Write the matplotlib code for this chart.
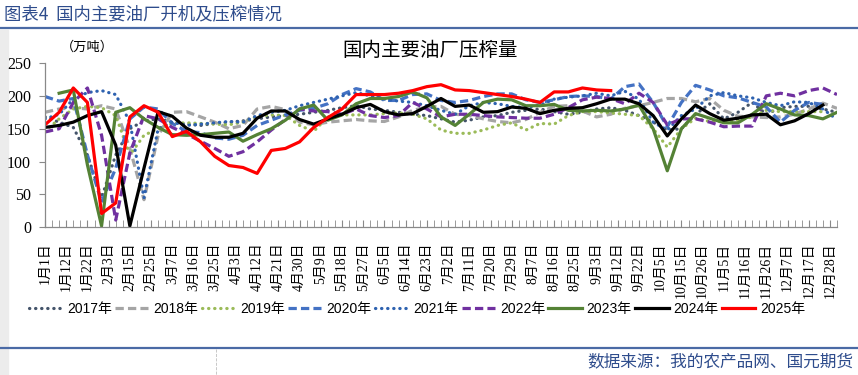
import numpy as np
import matplotlib
matplotlib.use('Agg')
import matplotlib.pyplot as plt
from matplotlib.lines import Line2D
from matplotlib.patches import Rectangle

plt.rcParams['font.family'] = ['Liberation Sans', 'Noto Sans CJK SC']

nan = np.nan

# tick labels (category axis, one label every 3 categories)
date_labels = ['1月1日', '1月12日', '1月22日', '2月3日', '2月15日', '2月25日', '3月7日',
               '3月16日', '3月25日', '4月3日', '4月12日', '4月21日', '4月30日', '5月9日',
               '5月18日', '5月27日', '6月5日', '6月14日', '6月23日', '7月2日', '7月11日',
               '7月20日', '7月29日', '8月7日', '8月16日', '8月25日', '9月3日', '9月12日',
               '9月22日', '10月5日', '10月15日', '10月26日', '11月5日', '11月16日',
               '11月26日', '12月7日', '12月17日', '12月28日']

# weekly crush volume, 万吨
y2017 = [168, 160, 152, 110, 45, 110, 150, 162, 165, 160, 157, 155, 158, 160, 162, 165, 168, 170, 172,
         175, 178, 182, 185, 180, 178, 175, 172, 170, 165, 160, 163, 168, 170, 175, 178, 180, 176, 172,
         175, 180, 182, 178, 170, 160, 148, 150, 172, 188, 165, 175, 190, 172, 182, 184, 184, 180, 175]
y2018 = [175, 180, 182, 180, 185, 180, 120, 42, 140, 175, 176, 168, 160, 150, 155, 180, 184, 179, 160,
         156, 160, 162, 164, 162, 161, 168, 178, 183, 184, 172, 170, 165, 161, 159, 164, 175, 184, 185,
         177, 168, 172, 181, 185, 190, 196, 196, 191, 196, 178, 169, 168, 167, 168, 172, 180, 189, 181]
y2019 = [146, 165, 180, 184, 182, 170, 110, 140, 150, 158, 159, 158, 157, 156, 160, 169, 171, 170, 155,
         146, 168, 171, 171, 171, 173, 174, 172, 165, 148, 143, 143, 148, 155, 159, 148, 158, 157, 170,
         176, 176, 174, 172, 170, 150, 122, 150, 166, 161, 161, 163, 168, 178, 176, 176, 176, 176, nan]
y2020 = [199, 192, 196, 110, 38, 90, 165, 183, 180, 158, 146, 144, 136, 134, 140, 155, 163, 171, 178,
         181, 188, 202, 211, 206, 193, 193, 202, 203, 193, 190, 193, 199, 203, 203, 194, 190, 194, 199,
         200, 199, 195, 214, 218, 190, 153, 190, 216, 209, 200, 197, 190, 183, 160, 178, 190, 187, nan]
y2021 = [165, 172, 195, 205, 208, 202, 160, 45, 150, 160, 155, 157, 159, 161, 160, 170, 175, 178, 185,
         190, 195, 200, 205, 200, 195, 192, 190, 185, 178, 172, 185, 190, 188, 184, 182, 186, 195, 198,
         200, 204, 200, 207, 195, 160, 148, 170, 180, 200, 205, 200, 197, 190, 185, 191, 190, 180, 164]
y2022 = [145, 150, 190, 212, 140, 11, 113, 170, 165, 152, 142, 131, 120, 108, 115, 130, 148, 164, 180,
         177, 176, 172, 180, 170, 167, 170, 190, 180, 168, 172, 172, 170, 168, 167, 166, 166, 172, 182,
         194, 198, 196, 188, 204, 190, 156, 165, 165, 160, 153, 154, 154, 200, 204, 200, 208, 212, 202]
y2023 = [nan, 204, 209, 95, 2, 175, 182, 165, 152, 141, 140, 141, 143, 145, 131, 141, 150, 163, 180,
         186, 163, 171, 188, 196, 196, 199, 206, 197, 168, 155, 172, 190, 195, 194, 185, 185, 187, 178,
         177, 178, 177, 180, 186, 150, 86, 150, 173, 166, 159, 159, 172, 188, 180, 171, 170, 165, 175]
y2024 = [152, 155, 160, 170, 176, 125, 2, 90, 176, 169, 151, 140, 137, 137, 143, 166, 177, 177, 164,
         157, 165, 172, 182, 187, 176, 171, 173, 184, 196, 184, 186, 175, 176, 183, 181, 173, 178, 181,
         182, 188, 195, 195, 188, 170, 139, 165, 186, 173, 163, 166, 171, 172, 156, 162, 173, 186, nan]
y2025 = [156, 175, 212, 190, 21, 37, 168, 185, 175, 138, 146, 130, 108, 94, 91, 82, 117, 120, 130,
         152, 167, 180, 202, 202, 202, 204, 208, 214, 217, 209, 208, 205, 202, 199, 195, 190, 206, 206,
         212, 209, 208] + [nan] * 16

years = ['2017年', '2018年', '2019年', '2020年', '2021年', '2022年', '2023年', '2024年', '2025年']
values = [y2017, y2018, y2019, y2020, y2021, y2022, y2023, y2024, y2025]
colors = ['#44546A', '#A5A5A5', '#9BBB59', '#4472C4', '#2E62B0', '#7030A0', '#548235', '#000000', '#FF0000']
styles = ['dot', 'dash', 'dot', 'dash', 'dot', 'dash', 'solid', 'solid', 'solid']

W, H = 858, 375
fig = plt.figure(figsize=(W / 100, H / 100), dpi=100)

def fy(py):
    return 1 - py / H

ax = fig.add_axes([45 / W, fy(227.3), 792 / W, 164.3 / H])

x = np.arange(57) * 2
for lab, v, c, s in zip(years, values, colors, styles):
    if s == 'dot':
        ax.plot(x, v, color=c, lw=2.3, linestyle=(0, (0.1, 1.8)), dash_capstyle='round', label=lab)
    elif s == 'dash':
        ax.plot(x, v, color=c, lw=2.3, linestyle=(0, (2.6, 1.3)), dash_capstyle='butt', label=lab)
    else:
        ax.plot(x, v, color=c, lw=2.3, label=lab)

ax.set_xlim(0, 112)
ax.set_ylim(0, 250)
ax.set_yticks(range(0, 251, 50))
ax.set_yticklabels([str(t) for t in range(0, 251, 50)], fontfamily='Liberation Serif', fontsize=11.5)
ax.set_xticks(np.arange(len(date_labels)) * 3)
ax.set_xticklabels(date_labels, rotation=90, va='top', ha='center',
                   fontfamily=['Liberation Serif', 'Noto Sans CJK SC'], fontsize=10)
ax.set_xticks(np.arange(0, 113), minor=True)
ax.tick_params(axis='x', which='both', direction='in', length=5, color='#898989', pad=11)
ax.tick_params(axis='y', direction='out', length=4, color='#898989', pad=6)
for sp in ['top', 'right']:
    ax.spines[sp].set_visible(False)
for sp in ['left', 'bottom']:
    ax.spines[sp].set_color('#898989')
    ax.spines[sp].set_linewidth(0.9)

fig.text(430 / W, fy(50), '国内主要油厂压榨量', ha='center', va='center', fontsize=14,
         family='Noto Sans CJK SC', fontweight='light')
fig.text(87 / W, fy(47), '（万吨）', ha='center', va='center', fontsize=9.5, family='Noto Sans CJK SC')

handles, labels = ax.get_legend_handles_labels()
fig.legend(handles, labels, loc='center', bbox_to_anchor=(417 / W, fy(309)), ncol=9, frameon=False,
           handlelength=2.4, handletextpad=0.35, columnspacing=0.25,
           prop={'family': ['Liberation Sans', 'Noto Sans CJK SC'], 'size': 10})

# header / footer decoration
fig.add_artist(Rectangle((0, 0), 8 / W, fy(30), transform=fig.transFigure, color='#ECECEC', zorder=0))
fig.text(4 / W, fy(14), '图表4  国内主要油厂开机及压榨情况', ha='left', va='center', fontsize=12.5,
         color='#2E4C8C', family='Noto Sans CJK SC')
fig.add_artist(Line2D([0, 1], [fy(27.5), fy(27.5)], color='#4A6AA5', lw=1.6))
fig.add_artist(Line2D([0, 1], [fy(348), fy(348)], color='#4A6AA5', lw=1.6))
fig.add_artist(Line2D([216 / W, 216 / W], [fy(349), 0], color='#BFBFBF', lw=0.6, ls='--'))
fig.text(853 / W, fy(362), '数据来源：我的农产品网、国元期货', ha='right', va='center', fontsize=12,
         color='#2E4C8C', family='Noto Sans CJK SC')

fig.savefig('out.png', dpi=100)
